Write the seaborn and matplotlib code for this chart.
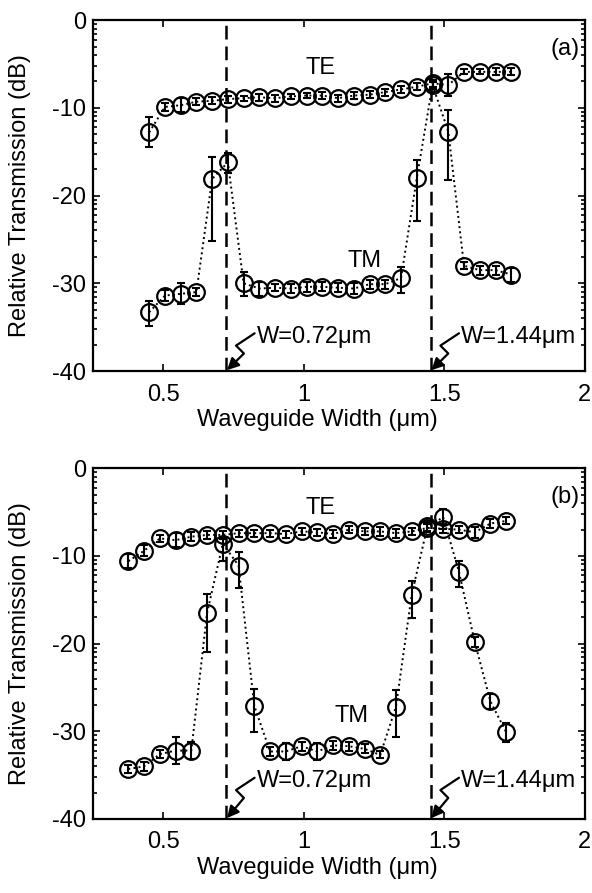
import numpy as np
import pandas as pd
import matplotlib
matplotlib.use("Agg")
import matplotlib.pyplot as plt
from matplotlib.patches import FancyArrowPatch
from matplotlib.path import Path
from matplotlib.ticker import FixedLocator
import seaborn as sns

# ---- panel (a) ----
width_a = [0.450, 0.506, 0.562, 0.618, 0.674, 0.730, 0.786, 0.842, 0.898, 0.954,
           1.010, 1.066, 1.122, 1.178, 1.234, 1.290, 1.346, 1.402, 1.458, 1.514,
           1.570, 1.626, 1.682, 1.738]
te_a = [-12.8, -9.9, -9.7, -9.3, -9.2, -9.0, -8.9, -8.8, -8.9, -8.7, -8.6, -8.6,
        -8.9, -8.6, -8.5, -8.2, -7.9, -7.6, -7.2, -7.4, -5.9, -5.9, -5.9, -5.9]
te_a_err = [1.7, 0.5, 0.8, 0.4, 0.4, 0.4, 0.3, 0.4, 0.4, 0.3, 0.3, 0.4,
            0.4, 0.4, 0.4, 0.4, 0.4, 0.4, 0.4, 1.2, 0.3, 0.3, 0.4, 0.4]
tm_a = [-33.3, -31.4, -31.2, -31.0, -18.1, -16.2, -30.0, -30.6, -30.5, -30.6, -30.4, -30.4,
        -30.5, -30.6, -30.1, -30.1, -29.4, -18.0, -7.4, -12.7, -28.0, -28.5, -28.5, -29.0]
tm_a_lo = [1.6, 0.6, 1.2, 0.5, 7.1, 1.2, 1.5, 0.8, 0.4, 0.5, 0.6, 0.5,
           0.5, 0.6, 0.5, 0.5, 1.7, 4.9, 0.4, 5.5, 0.4, 0.5, 0.5, 0.8]
tm_a_hi = [1.3, 0.6, 1.2, 0.5, 2.5, 1.1, 1.3, 0.8, 0.4, 0.5, 0.6, 0.5,
           0.5, 0.6, 0.5, 0.5, 1.3, 2.1, 0.4, 2.4, 0.4, 0.5, 0.5, 0.8]

# ---- panel (b) ----
width_b = [0.376, 0.432, 0.488, 0.544, 0.600, 0.656, 0.712, 0.768, 0.824, 0.880,
           0.936, 0.992, 1.048, 1.104, 1.160, 1.216, 1.272, 1.328, 1.384, 1.440,
           1.496, 1.552, 1.608, 1.664, 1.720]
te_b = [-10.6, -9.4, -8.0, -8.2, -7.8, -7.6, -7.6, -7.4, -7.4, -7.4, -7.5, -7.2, -7.3,
        -7.5, -7.0, -7.2, -7.2, -7.4, -7.2, -6.8, -6.9, -7.0, -7.3, -6.3, -6.0]
te_b_err = [0.8, 0.6, 0.4, 0.8, 0.5, 0.5, 0.5, 0.4, 0.4, 0.4, 0.4, 0.4, 0.4,
            0.5, 0.4, 0.4, 0.5, 0.5, 0.4, 0.5, 0.5, 0.4, 0.6, 0.5, 0.4]
tm_b = [-34.3, -34.0, -32.6, -32.2, -32.2, -16.5, -8.6, -11.1, -27.1, -32.3, -32.3, -31.7, -32.3,
        -31.6, -31.7, -32.0, -32.7, -27.2, -14.4, -6.6, -5.6, -11.8, -19.8, -26.6, -30.1]
tm_b_lo = [0.4, 0.5, 0.5, 1.5, 1.0, 4.4, 2.0, 2.6, 3.0, 0.5, 1.0, 0.5, 1.0,
           0.5, 0.5, 0.5, 0.4, 3.4, 2.7, 0.5, 1.3, 1.7, 0.6, 0.9, 1.1]
tm_b_hi = [0.4, 0.5, 0.5, 1.5, 1.0, 2.2, 0.8, 1.5, 1.9, 0.5, 1.0, 0.5, 1.0,
           0.5, 0.5, 0.5, 0.4, 1.9, 1.5, 0.5, 0.9, 1.2, 0.6, 0.9, 1.1]

cutoffs = [0.725, 1.452]
cutoff_labels = ["W=0.72\u03bcm", "W=1.44\u03bcm"]

sns.set_style("ticks")
plt.rcParams["font.family"] = ["Liberation Sans", "DejaVu Sans"]
plt.rcParams["axes.unicode_minus"] = False
plt.rcParams["text.color"] = "black"
plt.rcParams["axes.labelcolor"] = "black"
plt.rcParams["xtick.color"] = "black"
plt.rcParams["ytick.color"] = "black"
plt.rcParams["axes.edgecolor"] = "black"
FS = 17

fig = plt.figure(figsize=(5.92, 8.93), dpi=100)
ax_a = fig.add_axes([0.157, 0.5845, 0.831, 0.393])
ax_b = fig.add_axes([0.157, 0.0829, 0.831, 0.3927])

# log-style minor ticks like the original
minor = []
for top in [0, -10, -20, -30]:
    for n in range(2, 10):
        minor.append(top - 10 * (1 - np.log10(n)))


def draw_panel(ax, width, te, te_err, tm, tm_lo, tm_hi, tag, te_pos, tm_pos, wy):
    df = pd.DataFrame({"width": width, "TE": te, "TM": tm})
    for col in ["TE", "TM"]:
        sns.lineplot(data=df, x="width", y=col, ax=ax, color="k", linestyle=":",
                     linewidth=1.4, marker="o", markersize=12, markerfacecolor="none",
                     markeredgecolor="k", markeredgewidth=1.6, sort=False)
    ax.errorbar(width, te, yerr=te_err, fmt="none", ecolor="k",
                elinewidth=1.5, capsize=3, capthick=1.5)
    ax.errorbar(width, tm, yerr=[tm_lo, tm_hi], fmt="none", ecolor="k",
                elinewidth=1.5, capsize=3, capthick=1.5)
    for xc, lab in zip(cutoffs, cutoff_labels):
        ax.axvline(xc, color="k", linestyle=(0, (5.5, 2.8)), linewidth=1.8)
        verts = [(xc + 0.100, wy + 0.4), (xc + 0.034, wy - 1.0),
                 (xc + 0.062, wy - 1.9), (xc + 0.002, -39.9)]
        path = Path(verts, [Path.MOVETO, Path.LINETO, Path.LINETO, Path.LINETO])
        arr = FancyArrowPatch(path=path, arrowstyle="-|>,head_length=7,head_width=3.5",
                              color="k", linewidth=1.6)
        ax.add_patch(arr)
        ax.text(xc + 0.108, wy, lab, fontsize=FS, ha="left", va="center")
    ax.text(te_pos[0], te_pos[1], "TE", fontsize=FS, ha="center", va="center")
    ax.text(tm_pos[0], tm_pos[1], "TM", fontsize=FS, ha="center", va="center")
    ax.text(1.98, -3.3, tag, fontsize=FS, ha="right", va="center")

    ax.set_xlim(0.25, 2.0)
    ax.set_ylim(-40, 0)
    ax.set_xticks([0.5, 1, 1.5, 2])
    ax.set_xticklabels(["0.5", "1", "1.5", "2"])
    ax.set_yticks([-40, -30, -20, -10, 0])
    ax.yaxis.set_minor_locator(FixedLocator(minor))
    ax.tick_params(which="both", direction="in", top=True, right=True,
                   labelsize=FS, width=1.2)
    ax.tick_params(which="major", length=5)
    ax.tick_params(which="minor", length=3)
    ax.tick_params(axis="x", which="major", pad=9)
    ax.tick_params(axis="y", which="major", pad=5)
    for sp in ax.spines.values():
        sp.set_visible(True)
        sp.set_linewidth(1.6)
    ax.set_xlabel("Waveguide Width (\u03bcm)", fontsize=FS)
    ax.xaxis.set_label_coords(0.457, -0.14)
    ax.xaxis.label.set_va("center")
    ax.set_ylabel("Relative Transmission (dB)", fontsize=FS)
    ax.yaxis.set_label_coords(-0.148, 0.5)
    ax.yaxis.label.set_va("center")


draw_panel(ax_a, width_a, te_a, te_a_err, tm_a, tm_a_lo, tm_a_hi, "(a)",
           (1.06, -5.5), (1.215, -27.5), -36.1)
draw_panel(ax_b, width_b, te_b, te_b_err, tm_b, tm_b_lo, tm_b_hi, "(b)",
           (1.06, -4.5), (1.17, -28.3), -35.7)

fig.savefig("out.png", dpi=100, facecolor="white")
